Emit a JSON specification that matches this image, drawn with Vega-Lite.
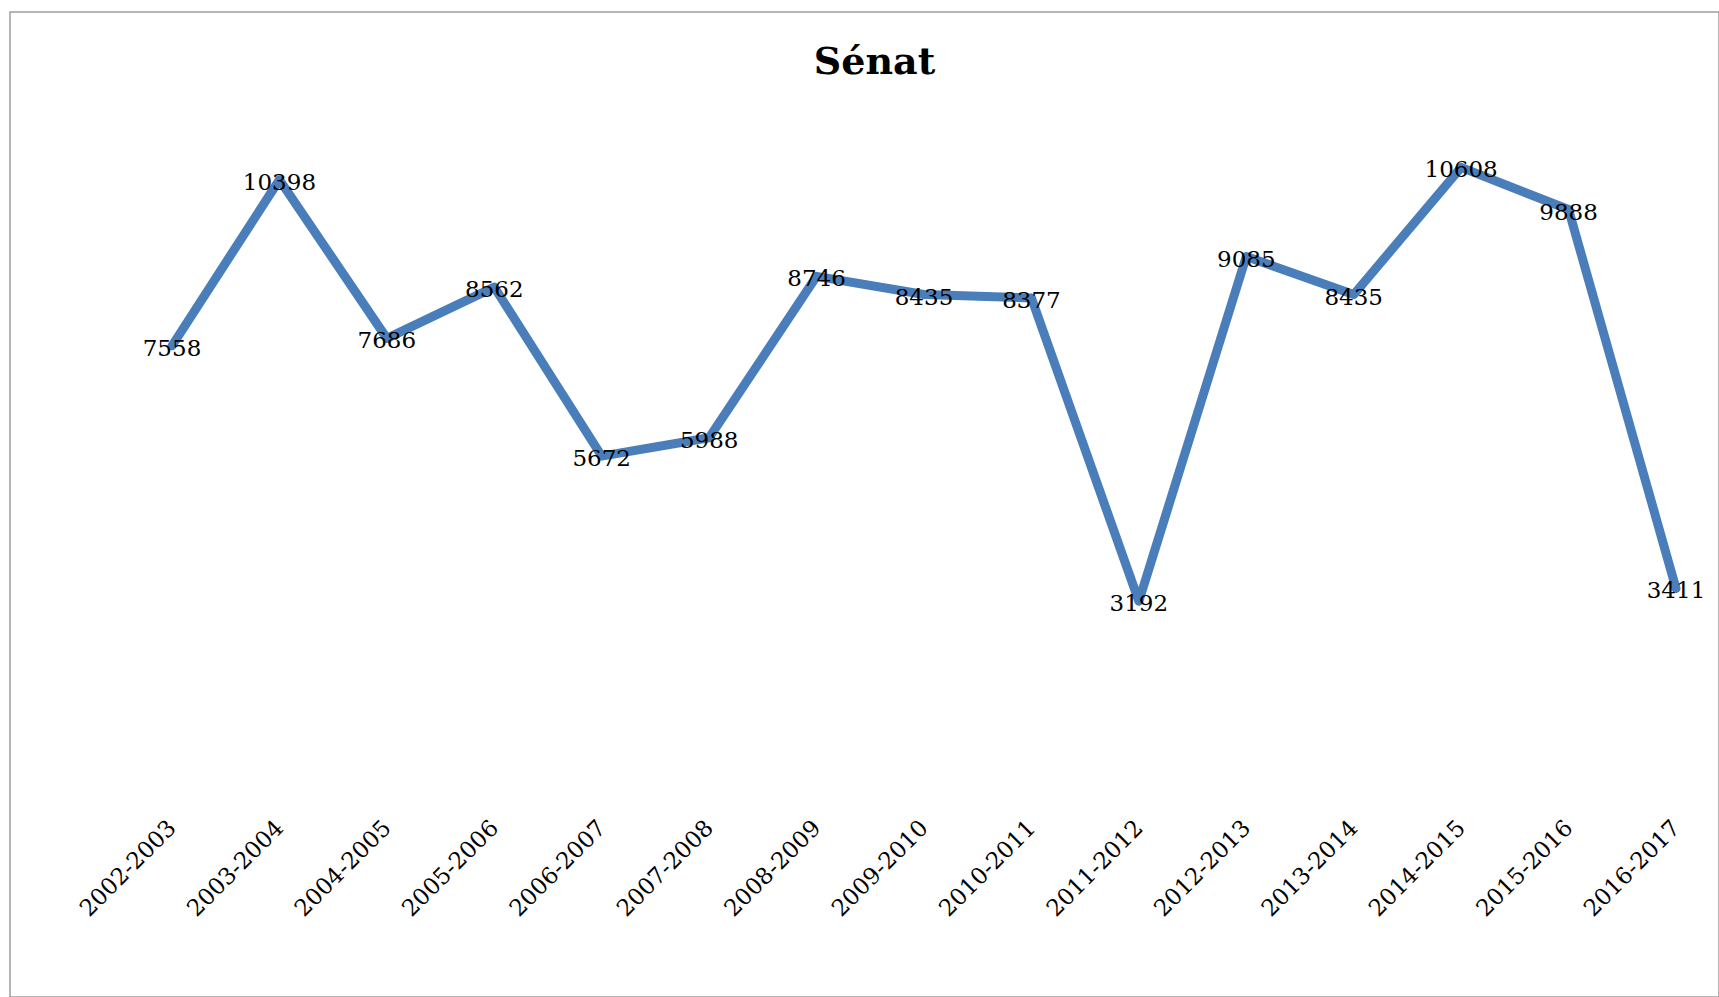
{
  "$schema": "https://vega.github.io/schema/vega-lite/v6.json",
  "autosize": {"type": "none"},
  "padding": {"left": 10, "top": 12, "right": 0, "bottom": 0},
  "width": 1709,
  "height": 985,
  "background": "white",
  "title": {
    "text": "Sénat",
    "font": "DejaVu Serif",
    "fontWeight": "bold",
    "fontSize": 38,
    "color": "black",
    "anchor": "middle",
    "frame": "group",
    "baseline": "alphabetic",
    "offset": 0,
    "dy": 100,
    "dx": 10
  },
  "data": {
    "values": [
      {"annee": "2002-2003", "valeur": 7558},
      {"annee": "2003-2004", "valeur": 10398},
      {"annee": "2004-2005", "valeur": 7686},
      {"annee": "2005-2006", "valeur": 8562},
      {"annee": "2006-2007", "valeur": 5672},
      {"annee": "2007-2008", "valeur": 5988},
      {"annee": "2008-2009", "valeur": 8746},
      {"annee": "2009-2010", "valeur": 8435},
      {"annee": "2010-2011", "valeur": 8377},
      {"annee": "2011-2012", "valeur": 3192},
      {"annee": "2012-2013", "valeur": 9085},
      {"annee": "2013-2014", "valeur": 8435},
      {"annee": "2014-2015", "valeur": 10608},
      {"annee": "2015-2016", "valeur": 9888},
      {"annee": "2016-2017", "valeur": 3411}
    ]
  },
  "encoding": {
    "x": {
      "field": "annee",
      "type": "ordinal",
      "sort": null,
      "scale": {"type": "point", "range": [162, 1666], "padding": 0},
      "axis": {
        "title": null,
        "domain": false,
        "ticks": false,
        "grid": false,
        "labelAngle": -45,
        "labelAlign": "right",
        "labelBaseline": "middle",
        "labelFont": "DejaVu Serif",
        "labelFontSize": 23,
        "labelColor": "black",
        "labelPadding": 0,
        "offset": -173
      }
    },
    "y": {
      "field": "valeur",
      "type": "quantitative",
      "scale": {"domain": [0, 12000], "range": [776, 74], "nice": false, "zero": true},
      "axis": null
    }
  },
  "layer": [
    {
      "mark": {"type": "line", "color": "#4a7ebb", "strokeWidth": 9, "strokeJoin": "round", "strokeCap": "round"}
    },
    {
      "mark": {"type": "text", "font": "DejaVu Serif", "fontSize": 23, "color": "black", "align": "center", "baseline": "middle", "dy": 3},
      "encoding": {"text": {"field": "valeur", "type": "quantitative", "format": "d"}}
    }
  ],
  "config": {
    "view": {"stroke": "#9f9f9f", "strokeWidth": 1.5}
  }
}
